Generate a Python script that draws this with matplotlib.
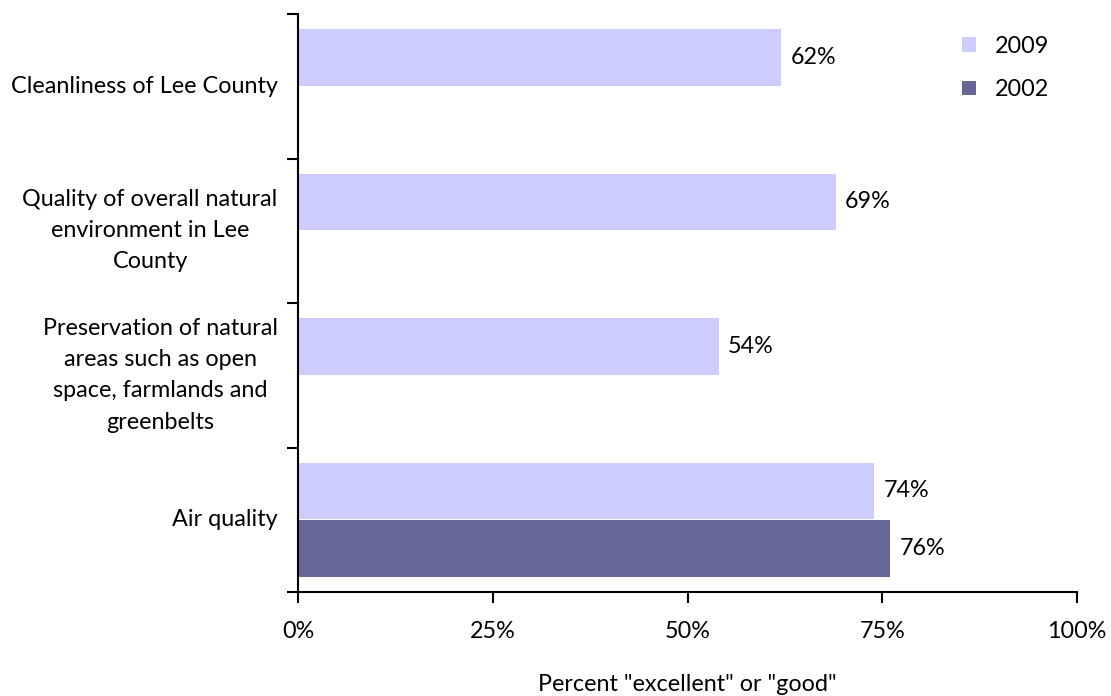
import matplotlib.pyplot as plt
import numpy as np

categories = ["Cleanliness of Lee County",
              "Quality of overall natural\nenvironment in Lee\nCounty",
              "Preservation of natural\nareas such as open\nspace, farmlands and\ngreenbelts",
              "Air quality"]
vals_2009 = [62, 69, 54, 74]
vals_2002 = [None, None, None, 76]

c2009 = "#ccccff"
c2002 = "#666699"

plt.rcParams['font.family'] = ['Lato', 'DejaVu Sans']
fs = 16.8

fig = plt.figure(figsize=(11.11, 6.96), dpi=100)
ax = fig.add_axes([298 / 1111, 1 - 592 / 696, (1077 - 298) / 1111, (592 - 14) / 696])

y = np.arange(len(categories))
h = 0.39
off = 0.2

for i, v in enumerate(vals_2009):
    ax.barh(y[i] - off, v, height=h, color=c2009, label="2009" if i == 0 else None)
    ax.text(v + 1.2, y[i] - off, f"{v}%", va="center", ha="left", fontsize=fs)
for i, v in enumerate(vals_2002):
    if v is None:
        continue
    ax.barh(y[i] + off, v, height=h, color=c2002, label="2002")
    ax.text(v + 1.2, y[i] + off, f"{v}%", va="center", ha="left", fontsize=fs)

ax.set_xlim(0, 100)
ax.set_ylim(3.5, -0.5)
ax.set_xticks([0, 25, 50, 75, 100])
ax.set_xticklabels(["0%", "25%", "50%", "75%", "100%"], fontsize=fs)
ax.tick_params(axis="x", length=8, width=1.5, pad=13)

# category labels sit between the ticks, ticks mark the band edges
ax.set_yticks(np.arange(-0.5, 4, 1))
ax.set_yticklabels([])
ax.tick_params(axis="y", length=8, width=1.5)
for i, c in enumerate(categories):
    ax.text(-0.026, y[i], c, ha="right", va="center", multialignment="center",
            fontsize=fs, transform=ax.get_yaxis_transform(), linespacing=1.6)

for s in ["top", "right"]:
    ax.spines[s].set_visible(False)
for s in ["left", "bottom"]:
    ax.spines[s].set_linewidth(1.5)

ax.set_xlabel('Percent "excellent" or "good"', fontsize=fs, labelpad=23)

ax.legend(loc="upper right", bbox_to_anchor=(0.985, 0.99), frameon=False, fontsize=fs,
          handlelength=0.6, handleheight=0.6, labelspacing=0.95, handletextpad=0.8,
          borderaxespad=0.3)

fig.savefig("out.png", dpi=100)
